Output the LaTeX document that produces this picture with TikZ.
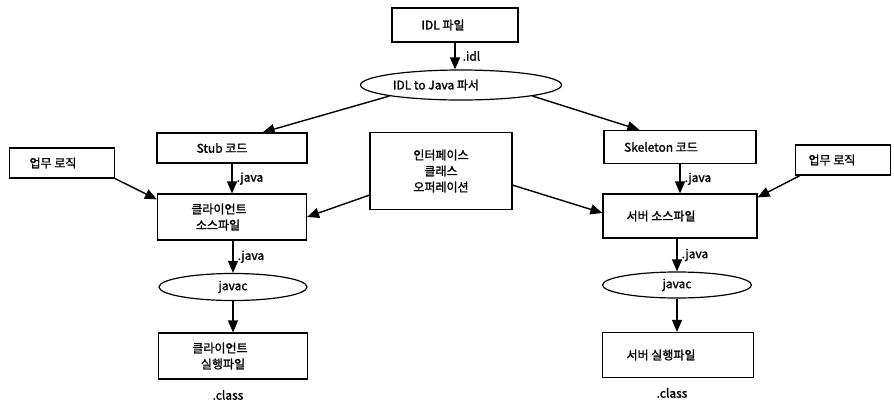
\documentclass[tikz,border=0pt]{standalone}
\usepackage{fontspec}
\setmainfont{Noto Sans CJK KR}[FakeBold=1.5]
\usetikzlibrary{shapes.geometric,arrows.meta}
\newcommand{\pd}[1]{\hspace*{#1pt}}
\begin{document}
\begin{tikzpicture}[x=1pt,y=-1pt,
  every node/.style={font=\fontsize{12}{16}\selectfont},
  box/.style={draw,line width=1.2pt,minimum width=#1,inner sep=0pt,align=center},
  oval/.style={draw,ellipse,line width=1.2pt,inner sep=0pt},
  arr/.style={line width=1.4pt,-{Triangle[length=12pt,width=10pt]}},
  lbl/.style={inner sep=1pt}]
\useasboundingbox (0,0) rectangle (894,402);
\node[box=126pt,minimum height=34pt] (idl) at (455,25) {IDL 파일\pd{24}};
\node[oval,minimum width=201pt,minimum height=30pt] (parser) at (461,85) {IDL to Java 파서\pd{50}};
\node[box=150pt,minimum height=30pt] (stub) at (232,148) {Stub 코드\pd{20}};
\node[box=152pt,minimum height=33pt] (skel) at (680,147) {Skeleton 코드\pd{38}};
\node[box=105pt,minimum height=30pt] (bizl) at (62,163) {업무 로직\pd{18}};
\node[box=95pt,minimum height=30pt] (bizr) at (843,160) {업무 로직\pd{22}};
\node[box=142pt,minimum height=77pt] (iface) at (441,171) {인터페이스\\클래스\\오퍼레이션};
\node[box=149pt,minimum height=46pt] (csrc) at (232,217) {클라이언트\pd{26}\\소스파일\pd{28}};
\node[box=154pt,minimum height=44pt] (ssrc) at (680,216) {서버 소스파일\pd{38}};
\node[oval,minimum width=148pt,minimum height=27pt] (cjavac) at (233,287) {javac};
\node[oval,minimum width=149pt,minimum height=26pt] (sjavac) at (677,285) {javac};
\node[box=149pt,minimum height=46pt] (cexe) at (233,356) {클라이언트\pd{26}\\실행파일\pd{20}};
\node[box=151pt,minimum height=45pt] (sexe) at (678,355) {서버 실행파일\pd{34}};
\node[lbl] (cclass) at (228,395) {.class};
\node[lbl] (sclass) at (672,393) {.class};

\draw[arr] (idl.south) -- node[right=6pt,lbl] {.idl} (idl.south |- parser.north);
\draw[arr] (parser.south west) -- ([xshift=-45pt]stub.north east);
\draw[arr] (parser.south east) -- ([xshift=36pt]skel.north west);
\draw[arr] (stub.south) -- node[right=3pt,lbl] {.java} (stub.south |- csrc.north);
\draw[arr] (skel.south) -- node[right=3pt,lbl] {.java} (skel.south |- ssrc.north);
\draw[arr] (bizl.south east) -- ([yshift=-6pt]csrc.north west);
\draw[arr] ([xshift=5pt]bizr.south west) -- ([yshift=-4pt]ssrc.north east);
\draw[arr] ([yshift=15pt]iface.south west) -- (csrc.east);
\draw[arr] ([yshift=25pt]iface.south east) -- ([yshift=3pt]ssrc.west);
\draw[arr] (csrc.south -| cjavac.north) -- node[right=3pt,lbl] {.java} (cjavac.north);
\draw[arr] (ssrc.south -| sjavac.north) -- node[right=3pt,lbl] {.java} (sjavac.north);
\draw[arr] (cjavac.south) -- (cexe.north -| cjavac.south);
\draw[arr] (sjavac.south) -- (sexe.north -| sjavac.south);
\end{tikzpicture}
\end{document}
